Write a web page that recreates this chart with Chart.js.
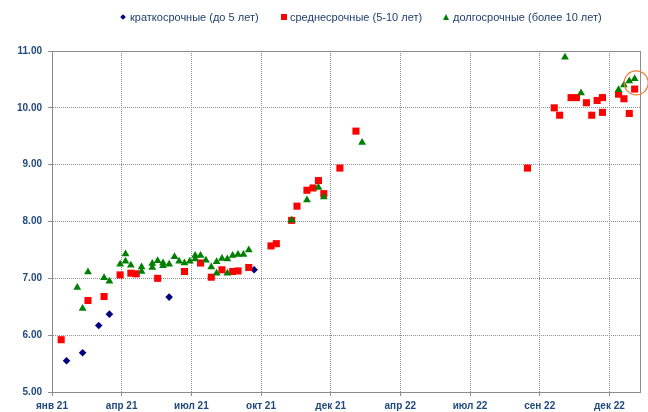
<!DOCTYPE html>
<html>
<head>
<meta charset="utf-8">
<script src="https://cdn.jsdelivr.net/npm/chart.js@4/dist/chart.umd.min.js"></script>
<style>
  body { margin: 0; background: #fff; }
  #wrap { position: relative; width: 648px; height: 412px; }
  .leg { position: absolute; top: 10px; font: 11px "Liberation Sans", Arial, sans-serif; color: #1F3F6E; white-space: nowrap; line-height: 14px; }
  .mk { position: absolute; }
  .dia { width: 4px; height: 4px; background: #000080; transform: rotate(45deg); top: 5px; left: -9px; }
  .sq { width: 6px; height: 6px; background: #FF0000; top: 4px; left: -9px; }
  .tri { width: 0; height: 0; border-left: 3.5px solid transparent; border-right: 3.5px solid transparent; border-bottom: 6px solid #008000; top: 4px; left: -10px; }
</style>
</head>
<body>
<div id="wrap">
  <canvas id="myChart" width="648" height="412"></canvas>
  <div class="leg" style="left:130px"><span class="mk dia"></span>краткосрочные (до 5 лет)</div>
  <div class="leg" style="left:290px"><span class="mk sq"></span>среднесрочные (5-10 лет)</div>
  <div class="leg" style="left:453px"><span class="mk tri"></span>долгосрочные (более 10 лет)</div>
</div>
<script>
// x = days since 1 Jan 2021
var shortDays = [19, 40, 61, 75, 153, 264];
var shortRates = [5.55, 5.69, 6.17, 6.37, 6.67, 7.15];

var midDays = [12, 47, 68, 89, 103, 110, 138, 173, 194, 208, 222, 236, 243, 257, 286, 293, 313, 320, 333, 341,
	348, 355, 376, 397, 621, 656, 663, 678, 685, 698, 705, 712, 719, 719, 740, 747, 754, 761];
var midRates = [5.92, 6.61, 6.68, 7.06, 7.09, 7.08, 7.00, 7.12, 7.27, 7.02, 7.15, 7.12, 7.13, 7.19, 7.57, 7.61, 8.02, 8.27, 8.55, 8.59,
	8.72, 8.49, 8.94, 9.59, 8.94, 10.00, 9.87, 10.18, 10.18, 10.09, 9.87, 10.13, 10.18, 9.92, 10.24, 10.16, 9.90, 10.33];

var longDays = [33, 40, 47, 68, 75, 89, 96, 96, 103, 117, 117, 131, 131, 138, 145, 145, 153, 160, 166, 173,
	180, 187, 187, 194, 201, 208, 215, 215, 222, 229, 229, 236, 243, 250, 257, 313, 333, 348, 355, 405,
	670, 691, 740, 747, 754, 761];
var longRates = [6.84, 6.47, 7.11, 7.01, 6.95, 7.25, 7.43, 7.30, 7.23, 7.20, 7.12, 7.26, 7.19, 7.31, 7.27, 7.22, 7.25, 7.38, 7.30, 7.27,
	7.30, 7.40, 7.34, 7.40, 7.32, 7.20, 7.29, 7.09, 7.35, 7.34, 7.09, 7.40, 7.42, 7.42, 7.50, 8.02, 8.38, 8.60, 8.43, 9.39,
	10.89, 10.26, 10.32, 10.40, 10.47, 10.51];

var tickDays = [0, 91, 182, 273, 364, 455, 546, 637, 728];
var tickLabels = ["янв 21", "апр 21", "июл 21", "окт 21", "дек 21", "апр 22", "июл 22", "сен 22", "дек 22"];

// orange ring around the latest points
var ringDay = 763;
var ringRate = 10.44;

function pts(xs, ys) {
	return xs.map(function (d, i) { return { x: d, y: ys[i] }; });
}

var frame = {
	id: 'frame',
	beforeDatasetsDraw: function (chart) {
		var a = chart.chartArea, ctx = chart.ctx;
		ctx.save();
		ctx.strokeStyle = '#8c8c8c';
		ctx.lineWidth = 1;
		ctx.strokeRect(Math.round(a.left) + 0.5, Math.round(a.top) + 0.5, Math.round(a.right - a.left), Math.round(a.bottom - a.top));
		ctx.restore();
	},
	afterDatasetsDraw: function (chart) {
		var ctx = chart.ctx;
		ctx.save();
		ctx.strokeStyle = '#ED7D31';
		ctx.lineWidth = 1.2;
		ctx.beginPath();
		ctx.arc(chart.scales.x.getPixelForValue(ringDay), chart.scales.y.getPixelForValue(ringRate), 12, 0, Math.PI * 2);
		ctx.stroke();
		ctx.restore();
	}
};

function buildChart() {
	var ctx = document.getElementById('myChart').getContext('2d');
	var tickFont = { family: '"Liberation Sans", Arial, sans-serif', size: 10, weight: 'bold' };
	var chart = new Chart(ctx, {
		type: 'scatter',
		data: {
			datasets: [{
				label: "краткосрочные (до 5 лет)",
				data: pts(shortDays, shortRates),
				pointStyle: 'rectRot',
				pointRadius: 3.8,
				backgroundColor: '#000080',
				borderColor: '#000080',
				borderWidth: 0,
				order: 2
			}, {
				label: "среднесрочные (5-10 лет)",
				data: pts(midDays, midRates),
				pointStyle: 'rect',
				pointRadius: 5,
				backgroundColor: '#FF0000',
				borderColor: '#FF0000',
				borderWidth: 0,
				order: 1
			}, {
				label: "долгосрочные (более 10 лет)",
				data: pts(longDays, longRates),
				pointStyle: 'triangle',
				pointRadius: 4.5,
				backgroundColor: '#008000',
				borderColor: '#008000',
				borderWidth: 0,
				order: 0
			}]
		},
		options: {
			responsive: false,
			animation: false,
			layout: { padding: { top: 51, right: 8, left: 0, bottom: 0 } },
			plugins: { legend: { display: false }, tooltip: { enabled: false } },
			scales: {
				x: {
					type: 'linear',
					min: 0,
					max: 768,
					afterBuildTicks: function (axis) {
						axis.ticks = tickDays.map(function (d) { return { value: d }; });
					},
					afterFit: function (axis) { axis.height = 20; },
					ticks: {
						autoSkip: false,
						maxRotation: 0,
						padding: 4,
						color: '#1F497D',
						font: tickFont,
						callback: function (v, i) { return tickLabels[i]; }
					},
					grid: { color: '#8f8f8f', tickColor: '#8c8c8c', tickLength: 4, tickBorderDash: [] },
					border: { color: '#8c8c8c', dash: [1, 1] }
				},
				y: {
					min: 5,
					max: 11,
					afterFit: function (axis) { axis.width = 52; },
					ticks: {
						stepSize: 1,
						padding: 6,
						color: '#1F497D',
						font: tickFont,
						callback: function (v) { return v.toFixed(2); }
					},
					grid: { color: '#8f8f8f', tickColor: '#8c8c8c', tickLength: 4, tickBorderDash: [] },
					border: { color: '#8c8c8c', dash: [1, 1] }
				}
			}
		},
		plugins: [frame]
	});
}

buildChart();
</script>
</body>
</html>
